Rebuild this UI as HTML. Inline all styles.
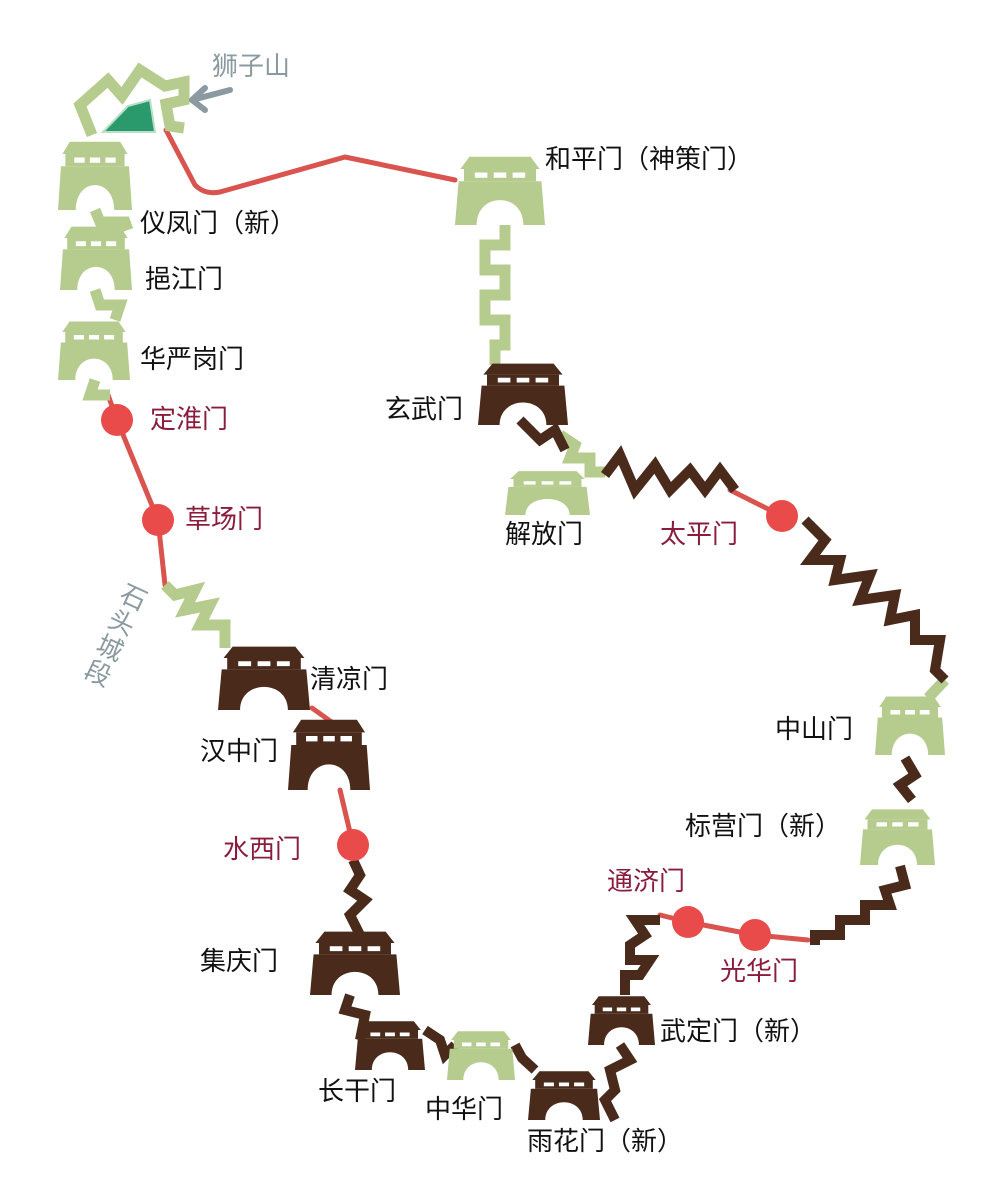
<!DOCTYPE html>
<html><head><meta charset="utf-8"><style>
html,body{margin:0;padding:0;background:#fff}
svg{display:block}
text{font-family:"Liberation Sans","Noto Sans CJK SC",sans-serif;font-size:26px;fill:#111}
.m{fill:#8a1c3c}.g{fill:#8a9aa0}
</style></head><body>
<svg width="1002" height="1181" viewBox="0 0 1002 1181" xmlns="http://www.w3.org/2000/svg">
<defs>
<symbol id="gate" viewBox="0 0 100 80" preserveAspectRatio="none">
<path d="M16,2 L84,2 L94,16 L6,16 Z"/>
<rect x="10" y="16" width="80" height="14"/>
<path d="M4,30 L96,30 L100,80 L76,80 C76,42 24,42 24,80 L0,80 Z"/>
<rect x="22" y="20" width="14" height="6" fill="#fff"/>
<rect x="43" y="20" width="14" height="6" fill="#fff"/>
<rect x="64" y="20" width="14" height="6" fill="#fff"/>
</symbol>
</defs>
<g fill="none" stroke="#d9534f" stroke-width="5" stroke-linejoin="round" stroke-linecap="round">
<path d="M166,130 L195,185 Q205,195 220,192 L345,157 L455,180"/>
<path d="M108,395 L117,420 L158,520 L165,585"/>
<path d="M312,708 L340,728"/>
<path d="M340,790 L353,845"/>
<path d="M730,490 L782,516"/>
<path d="M660,915 L688,922 L755,935 L808,940"/>
</g>
<g fill="none" stroke="#b5cc8e" stroke-width="11" stroke-linejoin="miter">
<polyline points="92,135 80,105 108,80 122,96 140,70 165,86 184,82 184,100 166,104 170,126 184,128"/>
<polyline points="505,225 505,245 485,245 485,270 505,270 505,295 485,295 485,320 505,320 505,345 495,345 495,365"/>
<polyline points="560,435 575,445 570,458 590,458 590,472 605,472"/>
<polyline points="165,585 175,595 195,590 185,610 210,605 200,625 225,625 225,648"/>
<polyline points="945,680 928,698"/>
<polyline points="95,210 100,222 125,222 128,230"/>
<polyline points="95,290 100,305 120,305 115,320"/>
<polyline points="95,380 90,395 110,395"/>
</g>
<g fill="none" stroke="#4a2a1a" stroke-width="10" stroke-linejoin="miter">
<polyline points="520,420 540,440 555,430 565,450"/>
<polyline points="605,475 620,455 635,490 655,465 670,490 690,470 705,490 720,470 735,490"/>
<polyline points="805,520 825,540 810,560 840,560 835,580 870,575 860,600 895,595 890,620 915,615 915,640 940,640 935,670 945,680"/>
<polyline points="905,758 915,775 900,785 912,800"/>
<polyline points="900,866 905,885 885,890 890,905 865,905 865,920 840,920 840,935 815,935 815,945"/>
<polyline points="660,920 635,920 645,935 630,945 630,960 650,960 640,975 625,975 625,995"/>
<polyline points="620,1045 630,1060 610,1070 615,1090 605,1100 615,1120"/>
<polyline points="515,1045 522,1058 535,1070"/>
<polyline points="425,1030 440,1040 445,1055 455,1045"/>
<polyline points="350,995 345,1010 365,1015 360,1040"/>
<polyline points="353,860 360,875 350,890 365,900 350,915 360,935"/>
</g>
<polygon points="103,132 128,106 150,100 155,132" fill="#2a9a6c" stroke="#b8e0c8" stroke-width="2"/>
<g fill="#b5cc8e">
<use href="#gate" x="58" y="140" width="74" height="70"/>
<use href="#gate" x="60" y="225" width="72" height="65"/>
<use href="#gate" x="58" y="320" width="72" height="60"/>
<use href="#gate" x="455" y="155" width="90" height="70"/>
<use href="#gate" x="505" y="470" width="85" height="45"/>
<use href="#gate" x="447" y="1030" width="68" height="50"/>
<use href="#gate" x="875" y="695" width="70" height="60"/>
<use href="#gate" x="860" y="808" width="75" height="57"/>
</g>
<g fill="#4a2a1a">
<use href="#gate" x="478" y="362" width="90" height="63"/>
<use href="#gate" x="218" y="645" width="92" height="65"/>
<use href="#gate" x="288" y="718" width="82" height="72"/>
<use href="#gate" x="310" y="930" width="90" height="65"/>
<use href="#gate" x="355" y="1020" width="70" height="50"/>
<use href="#gate" x="528" y="1070" width="72" height="50"/>
<use href="#gate" x="588" y="995" width="67" height="50"/>
</g>
<g fill="#e94b4b">
<circle cx="117" cy="420" r="16"/><circle cx="158" cy="520" r="16"/>
<circle cx="353" cy="845" r="16"/><circle cx="782" cy="516" r="16"/>
<circle cx="688" cy="922" r="16"/><circle cx="755" cy="935" r="16"/>
</g>
<path d="M230,90 L192,100 M205,88 L192,100 L205,110" fill="none" stroke="#8a9aa0" stroke-width="6" stroke-linecap="round" stroke-linejoin="round"/>
<text class="g" x="212" y="75">狮子山</text>
<text x="140" y="232">仪凤门（新）</text>
<text x="145" y="288">挹江门</text>
<text x="140" y="368">华严岗门</text>
<text class="m" x="150" y="428">定淮门</text>
<text class="m" x="185" y="528">草场门</text>
<g transform="translate(118,600) rotate(25)"><text class="g" x="0" y="0">石</text><text class="g" x="0" y="28">头</text><text class="g" x="0" y="56">城</text><text class="g" x="0" y="84">段</text></g>
<text x="310" y="688">清凉门</text>
<text x="200" y="760">汉中门</text>
<text class="m" x="223" y="858">水西门</text>
<text x="200" y="970">集庆门</text>
<text x="318" y="1100">长干门</text>
<text x="425" y="1118">中华门</text>
<text x="527" y="1150">雨花门（新）</text>
<text x="660" y="1040">武定门（新）</text>
<text class="m" x="607" y="890">通济门</text>
<text class="m" x="720" y="980">光华门</text>
<text x="685" y="835">标营门（新）</text>
<text x="775" y="738">中山门</text>
<text class="m" x="660" y="543">太平门</text>
<text x="505" y="543">解放门</text>
<text x="385" y="418">玄武门</text>
<text x="545" y="168">和平门（神策门）</text>
</svg>
</body></html>
